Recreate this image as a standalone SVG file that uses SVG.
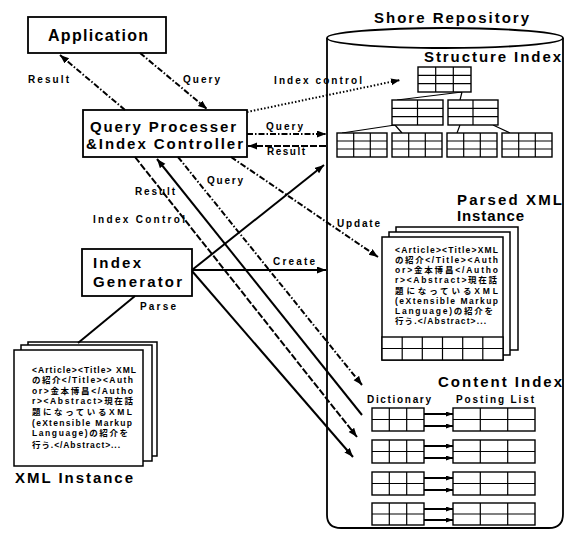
<svg xmlns="http://www.w3.org/2000/svg" width="573" height="534" viewBox="0 0 573 534">
<defs>
<marker id="ah" markerWidth="10" markerHeight="8" refX="9" refY="3.5" orient="auto" markerUnits="userSpaceOnUse">
<path d="M0,0 L9,3.5 L0,7 z" fill="#000"/>
</marker>
<marker id="ahs" markerWidth="8" markerHeight="6" refX="7" refY="2.5" orient="auto" markerUnits="userSpaceOnUse">
<path d="M0,0 L7,2.5 L0,5 z" fill="#000"/>
</marker>
</defs>
<style>
text{font-family:"Liberation Sans","Noto Sans CJK JP",sans-serif;font-weight:bold;fill:#000}
.big{font-size:15px}
.lbl{font-size:10px}
.doc{font-size:8.5px}
.box{fill:#fff;stroke:#000;stroke-width:1.8}
.page{fill:#fff;stroke:#000;stroke-width:1.5}
.tbl{fill:#fff;stroke:#000;stroke-width:1.4}
.grid{fill:none;stroke:#000;stroke-width:1.2}
.c{fill:none;stroke:#000;stroke-width:2}
.dd{stroke-dasharray:6 2 1.5 2}
.ds{stroke-dasharray:7 2}
.dt{stroke-dasharray:1.5 2}
</style>
<rect width="573" height="534" fill="#fff"/>

<g id="shore-repository">
<path d="M327,38 V515 Q327,528 341,528 L549,528 Q563,528 563,514 V38" fill="#fff" stroke="#000" stroke-width="1.8"/>
<ellipse cx="445" cy="38" rx="118" ry="10" fill="#fff" stroke="#000" stroke-width="1.8"/>
<text class="big" x="374" y="23" textLength="155" lengthAdjust="spacing">Shore Repository</text>
</g>

<g id="structure-index">
<text class="big" x="424" y="62" textLength="137" lengthAdjust="spacing">Structure Index</text>
<path class="grid" d="M462,92 L397,100 M462,92 L460,100 M395,125 L342,133 M395,125 L402,133 M460,125 L457,133 M493,125 L510,133"/>
<rect class="tbl" x="418" y="67" width="53" height="25"/>
<path class="grid" d="M435.7,67 V92 M453.3,67 V92 M418,75.3 H471 M418,83.7 H471"/>
<rect class="tbl" x="392" y="100" width="51" height="25"/>
<path class="grid" d="M417.5,100 V125 M392,108.3 H443 M392,116.7 H443"/>
<rect class="tbl" x="448" y="100" width="50" height="25"/>
<path class="grid" d="M473,100 V125 M448,108.3 H498 M448,116.7 H498"/>
<rect class="tbl" x="337" y="133" width="50" height="24"/>
<rect class="tbl" x="392" y="133" width="50" height="24"/>
<rect class="tbl" x="447" y="133" width="50" height="24"/>
<rect class="tbl" x="502" y="133" width="50" height="24"/>
<path class="grid" d="M353.7,133 V157 M370.3,133 V157 M408.7,133 V157 M425.3,133 V157 M463.7,133 V157 M480.3,133 V157 M518.7,133 V157 M535.3,133 V157 M337,141 H387 M337,149 H387 M392,141 H442 M392,149 H442 M447,141 H497 M447,149 H497 M502,141 H552 M502,149 H552"/>
</g>

<g id="parsed-xml-instance">
<text class="big" x="457" y="205" textLength="105" lengthAdjust="spacing">Parsed XML</text>
<text class="big" x="457" y="221" textLength="67" lengthAdjust="spacing">Instance</text>
<rect class="page" x="396" y="227" width="122" height="123"/>
<rect class="page" x="389" y="232" width="121" height="123"/>
<rect class="page" x="382" y="237" width="121" height="123"/>
<text class="doc" x="395" y="253" textLength="103" lengthAdjust="spacing">&lt;Article&gt;&lt;Title&gt;XML</text>
<text class="doc" x="395" y="263" textLength="103" lengthAdjust="spacing">の紹介&lt;/Title&gt;&lt;Auth</text>
<text class="doc" x="395" y="273" textLength="103" lengthAdjust="spacing">or&gt;金本博昌&lt;/Autho</text>
<text class="doc" x="395" y="283" textLength="102" lengthAdjust="spacing">r&gt;&lt;Abstract&gt;現在話</text>
<text class="doc" x="395" y="294" textLength="103" lengthAdjust="spacing">題になっているXML</text>
<text class="doc" x="395" y="304" textLength="103" lengthAdjust="spacing">(eXtensible Markup</text>
<text class="doc" x="395" y="314" textLength="98" lengthAdjust="spacing">Language)の紹介を</text>
<text class="doc" x="395" y="324" textLength="91" lengthAdjust="spacing">行う.&lt;/Abstract&gt;...</text>
<rect class="tbl" x="382" y="337" width="121" height="23"/>
<path class="grid" d="M382,348.5 H503 M402.2,337 V360 M422.3,337 V360 M442.5,337 V360 M462.7,337 V360 M482.8,337 V360"/>
</g>

<g id="content-index">
<text class="big" x="438" y="387" textLength="124" lengthAdjust="spacing">Content Index</text>
<text class="lbl" x="367" y="403" textLength="64" lengthAdjust="spacing">Dictionary</text>
<text class="lbl" x="456" y="403" textLength="78" lengthAdjust="spacing">Posting List</text>
<g id="dict-1">
<rect class="tbl" x="372" y="408" width="52" height="23"/><path class="grid" d="M389.3,408 V431 M406.7,408 V431 M372,419.5 H424"/>
<rect class="tbl" x="453" y="408" width="82" height="23"/><path class="grid" d="M480.3,408 V431 M507.7,408 V431 M453,419.5 H535"/>
</g>
<g id="dict-2">
<rect class="tbl" x="372" y="440" width="52" height="23"/><path class="grid" d="M389.3,440 V463 M406.7,440 V463 M372,451.5 H424"/>
<rect class="tbl" x="453" y="440" width="82" height="23"/><path class="grid" d="M480.3,440 V463 M507.7,440 V463 M453,451.5 H535"/>
</g>
<g id="dict-3">
<rect class="tbl" x="372" y="472" width="52" height="23"/><path class="grid" d="M389.3,472 V495 M406.7,472 V495 M372,483.5 H424"/>
<rect class="tbl" x="453" y="472" width="82" height="23"/><path class="grid" d="M480.3,472 V495 M507.7,472 V495 M453,483.5 H535"/>
</g>
<g id="dict-4">
<rect class="tbl" x="372" y="503" width="52" height="22"/><path class="grid" d="M389.3,503 V525 M406.7,503 V525 M372,514 H424"/>
<rect class="tbl" x="453" y="503" width="82" height="22"/><path class="grid" d="M480.3,503 V525 M507.7,503 V525 M453,514 H535"/>
</g>
</g>

<g id="application">
<rect class="box" x="28" y="17" width="138" height="36"/>
<text x="48" y="41" style="font-size:16px" textLength="100" lengthAdjust="spacing">Application</text>
</g>

<g id="query-processor">
<rect class="box" x="83" y="110" width="164" height="47"/>
<text class="big" x="90" y="132" textLength="146" lengthAdjust="spacing">Query Processer</text>
<text class="big" x="86" y="149" textLength="157" lengthAdjust="spacing">&amp;Index Controller</text>
</g>

<g id="index-generator">
<rect class="box" x="82" y="249" width="110" height="47"/>
<text class="big" x="93" y="268" textLength="48" lengthAdjust="spacing">Index</text>
<text class="big" x="93" y="287" textLength="89" lengthAdjust="spacing">Generator</text>
</g>

<g id="xml-instance">
<rect class="page" x="28" y="342" width="129" height="114"/>
<rect class="page" x="21" y="345" width="131" height="116"/>
<rect class="page" x="14" y="350" width="129" height="116"/>
<text class="doc" x="32" y="373" textLength="104" lengthAdjust="spacing">&lt;Article&gt;&lt;Title&gt; XML</text>
<text class="doc" x="32" y="383" textLength="101" lengthAdjust="spacing">の紹介&lt;/Title&gt;&lt;Auth</text>
<text class="doc" x="32" y="394" textLength="101" lengthAdjust="spacing">or&gt;金本博昌&lt;/Autho</text>
<text class="doc" x="32" y="404" textLength="101" lengthAdjust="spacing">r&gt;&lt;Abstract&gt;現在話</text>
<text class="doc" x="32" y="415" textLength="100" lengthAdjust="spacing">題になっているXML</text>
<text class="doc" x="32" y="426" textLength="100" lengthAdjust="spacing">(eXtensible Markup</text>
<text class="doc" x="32" y="436" textLength="96" lengthAdjust="spacing">Language)の紹介を</text>
<text class="doc" x="32" y="448" textLength="88" lengthAdjust="spacing">行う.&lt;/Abstract&gt;...</text>
<text class="big" x="15" y="483" textLength="118" lengthAdjust="spacing">XML Instance</text>
</g>

<g id="connectors">
<line class="c dd" x1="125" y1="110" x2="60" y2="55" marker-end="url(#ah)"/>
<line class="c dd" x1="140" y1="53" x2="207" y2="109" marker-end="url(#ah)"/>
<line class="c dt" x1="247" y1="112" x2="400" y2="80" marker-end="url(#ah)"/>
<line class="c dd" x1="247" y1="134" x2="326" y2="134" marker-end="url(#ah)"/>
<line class="c ds" x1="326" y1="146" x2="248" y2="146" marker-end="url(#ah)"/>
<line class="c dd" x1="231" y1="157" x2="378" y2="257" marker-end="url(#ah)"/>
<line class="c dd" x1="178" y1="157" x2="362" y2="385" marker-end="url(#ah)"/>
<line class="c" x1="362" y1="415" x2="157" y2="159" marker-end="url(#ah)"/>
<line class="c ds" x1="135" y1="157" x2="357" y2="437" marker-end="url(#ah)"/>
<line class="c" x1="192" y1="271" x2="353" y2="457" marker-end="url(#ah)"/>
<line class="c" x1="192" y1="270" x2="326" y2="270" marker-end="url(#ah)"/>
<line class="c" x1="192" y1="270" x2="324" y2="165" marker-end="url(#ah)"/>
<line class="c" x1="135" y1="296" x2="78" y2="343"/>
<g stroke-width="1.6">
<line class="c" x1="424" y1="414" x2="453" y2="414" marker-end="url(#ahs)"/>
<line class="c" x1="424" y1="426" x2="453" y2="426" marker-end="url(#ahs)"/>
<line class="c" x1="424" y1="446" x2="453" y2="446" marker-end="url(#ahs)"/>
<line class="c" x1="424" y1="458" x2="453" y2="458" marker-end="url(#ahs)"/>
<line class="c" x1="424" y1="478" x2="453" y2="478" marker-end="url(#ahs)"/>
<line class="c" x1="424" y1="490" x2="453" y2="490" marker-end="url(#ahs)"/>
<line class="c" x1="424" y1="509" x2="453" y2="509" marker-end="url(#ahs)"/>
<line class="c" x1="424" y1="520" x2="453" y2="520" marker-end="url(#ahs)"/>
</g>
<text class="lbl" x="28" y="83" textLength="41" lengthAdjust="spacing">Result</text>
<text class="lbl" x="183" y="83" textLength="37" lengthAdjust="spacing">Query</text>
<text class="lbl" x="274" y="84" textLength="88" lengthAdjust="spacing">Index control</text>
<text class="lbl" x="266" y="130" textLength="37" lengthAdjust="spacing">Query</text>
<text class="lbl" x="267" y="155" textLength="38" lengthAdjust="spacing">Result</text>
<text class="lbl" x="207" y="184" textLength="36" lengthAdjust="spacing">Query</text>
<text class="lbl" x="135" y="195" textLength="40" lengthAdjust="spacing">Result</text>
<text class="lbl" x="93" y="223" textLength="92" lengthAdjust="spacing">Index Control</text>
<text class="lbl" x="337" y="227" textLength="43" lengthAdjust="spacing">Update</text>
<text class="lbl" x="273" y="265" textLength="42" lengthAdjust="spacing">Create</text>
<text class="lbl" x="140" y="310" textLength="36" lengthAdjust="spacing">Parse</text>
</g>
</svg>
